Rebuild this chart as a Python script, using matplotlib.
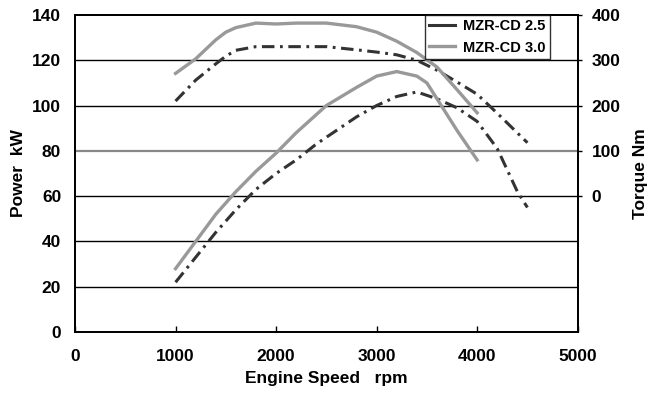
import matplotlib
matplotlib.use("Agg")
from matplotlib import pyplot as plt
from matplotlib.lines import Line2D

plt.rcParams['font.family'] = ['Liberation Sans', 'DejaVu Sans']
plt.rcParams['font.weight'] = 'bold'
plt.rcParams['lines.scale_dashes'] = False

# MZR-CD 2.5
rpm_25 = [1000, 1200, 1400, 1600, 1800, 2000, 2200, 2400, 2600, 2800, 3000, 3200, 3400, 3600, 3800, 4000, 4200, 4400, 4500]
power_25 = [22, 33, 44, 54, 63, 70, 76, 83, 89, 95, 100, 104, 106, 103, 99, 93, 81, 62, 55]
torque_rpm_25 = [1000, 1200, 1400, 1500, 1600, 1800, 2000, 2500, 2800, 3000, 3200, 3400, 3600, 3800, 4000, 4200, 4500]
torque_25 = [210, 256, 292, 309, 322, 330, 330, 330, 323, 318, 312, 300, 278, 252, 225, 183, 118]

# MZR-CD 3.0
rpm_30 = [1000, 1200, 1400, 1600, 1800, 2000, 2200, 2500, 2800, 3000, 3200, 3400, 3500, 3600, 3800, 4000]
power_30 = [28, 40, 52, 62, 71, 79, 88, 100, 108, 113, 115, 113, 110, 103, 89, 76]
torque_rpm_30 = [1000, 1200, 1400, 1500, 1600, 1800, 2000, 2200, 2500, 2800, 3000, 3200, 3400, 3600, 3800, 4000]
torque_30 = [271, 303, 345, 362, 372, 382, 380, 382, 382, 374, 362, 342, 317, 285, 235, 184]

dark = '#333333'
grey = '#999999'
dashdot = (0, (9, 4, 2, 4))

fig = plt.figure(figsize=(6.64, 3.93), dpi=100)
ax = fig.add_axes([0.113, 0.155, 0.757, 0.807])
ax2 = ax.twinx()

ax.set_xlim(0, 5000)
ax.set_ylim(0, 140)
ax.set_xticks([0, 1000, 2000, 3000, 4000, 5000])
ax.set_yticks([0, 20, 40, 60, 80, 100, 120, 140])
for y in [20, 40, 60, 100, 120]:
    ax.axhline(y, color='black', lw=1.0, zorder=0)
ax.axhline(80, color='#888888', lw=1.6, zorder=0)

ax.tick_params(axis='x', direction='in', length=4, width=1, labelsize=12.5, pad=12)
ax.tick_params(axis='y', length=0, labelsize=12.5, pad=10)
ax.set_xlabel("Engine Speed   rpm", fontsize=12.5, fontweight='bold', labelpad=5)
ax.set_ylabel("Power  kW", fontsize=12.5, fontweight='bold', labelpad=4)

ax2.set_ylim(-300, 400)
ax2.set_yticks([0, 100, 200, 300, 400])
ax2.tick_params(axis='y', direction='out', length=3, width=1, labelsize=12.5, pad=7)
ax2.set_ylabel("Torque Nm", fontsize=12.5, fontweight='bold', labelpad=9)

for a in (ax, ax2):
    for s in a.spines.values():
        s.set_linewidth(1.3)
        s.set_color('black')

ax.plot(rpm_25, power_25, color=dark, lw=2.2, linestyle=dashdot)
ax2.plot(torque_rpm_25, torque_25, color=dark, lw=2.2, linestyle=dashdot)
ax.plot(rpm_30, power_30, color=grey, lw=2.4)
ax2.plot(torque_rpm_30, torque_30, color=grey, lw=2.4)

handles = [Line2D([], [], color=dark, lw=2.2), Line2D([], [], color=grey, lw=2.4)]
leg = ax2.legend(handles, ["MZR-CD 2.5", "MZR-CD 3.0"], loc='upper right',
                 bbox_to_anchor=(0.944, 1.0), fontsize=10.5, frameon=True, fancybox=False,
                 edgecolor='black', handlelength=1.8, borderpad=0.3, labelspacing=0.5,
                 handletextpad=0.5, borderaxespad=0.0)
leg.get_frame().set_linewidth(1.0)
for t in leg.get_texts():
    t.set_fontweight('bold')

plt.savefig("out.png", dpi=100)
